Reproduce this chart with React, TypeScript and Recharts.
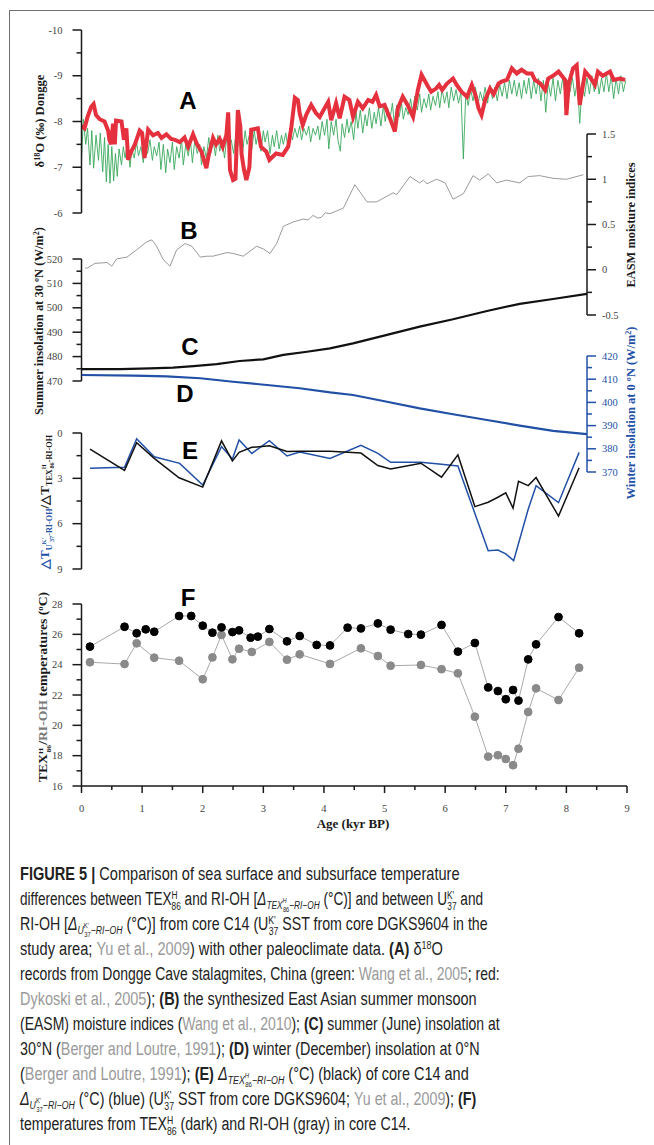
import React, { useLayoutEffect, useRef, useState } from 'react';
import { LineChart, Line, XAxis, YAxis } from 'recharts';

// ---- values (age in kyr BP) ----
const redDongge: [number, number][] = [
  [0, -7.9], [0.05, -7.85], [0.1, -8.1], [0.16, -8.32], [0.2, -8.38], [0.24, -8.14], [0.3, -8.05], [0.38, -8.0],
  [0.44, -7.8], [0.46, -7.6], [0.49, -7.5], [0.52, -7.95], [0.55, -7.5], [0.57, -8.02], [0.66, -8.0], [0.7, -7.6],
  [0.74, -7.85], [0.77, -7.16], [0.82, -7.34], [0.88, -7.5], [0.96, -7.8], [1.0, -7.75], [1.04, -7.2], [1.1, -7.82],
  [1.18, -7.7], [1.26, -7.75], [1.32, -7.64], [1.4, -7.72], [1.48, -7.62], [1.54, -7.6], [1.62, -7.55], [1.7, -7.65],
  [1.76, -7.45], [1.84, -7.72], [1.9, -7.52], [1.98, -7.34], [2.06, -6.98], [2.1, -7.27], [2.17, -7.64], [2.22, -7.5],
  [2.28, -7.62], [2.33, -7.45], [2.39, -7.7], [2.42, -8.2], [2.45, -6.94], [2.5, -6.72], [2.54, -6.75], [2.58, -8.25],
  [2.62, -7.9], [2.64, -7.3], [2.68, -6.95], [2.72, -6.72], [2.77, -7.0], [2.8, -7.82], [2.91, -7.85], [2.96, -7.45],
  [3.05, -7.34], [3.1, -7.16], [3.21, -7.3], [3.32, -7.27], [3.41, -7.45], [3.46, -7.85], [3.52, -8.52], [3.57, -8.47],
  [3.6, -8.18], [3.65, -7.92], [3.71, -8.15], [3.79, -8.36], [3.87, -8.18], [3.93, -8.1], [4.01, -8.29], [4.07, -8.43],
  [4.12, -8.03], [4.2, -8.4], [4.26, -8.07], [4.34, -8.54], [4.42, -8.47], [4.48, -8.1], [4.56, -8.43], [4.64, -8.29],
  [4.73, -8.47], [4.8, -8.43], [4.86, -8.58], [4.92, -8.33], [5.0, -8.36], [5.08, -8.1], [5.17, -7.78], [5.22, -8.29],
  [5.3, -8.54], [5.38, -8.36], [5.47, -8.1], [5.55, -8.69], [5.61, -9.02], [5.66, -8.9], [5.72, -8.76], [5.77, -8.65],
  [5.85, -8.72], [5.9, -8.8], [5.95, -8.69], [6.03, -8.83], [6.13, -8.94], [6.19, -8.8], [6.27, -8.65], [6.36, -8.54],
  [6.44, -8.8], [6.5, -8.58], [6.55, -8.29], [6.6, -8.14], [6.66, -8.47], [6.74, -8.72], [6.8, -8.6], [6.88, -8.83],
  [6.93, -8.87], [7.02, -8.91], [7.1, -9.16], [7.18, -9.05], [7.26, -9.13], [7.35, -9.05], [7.43, -9.05], [7.48, -8.91],
  [7.57, -8.83], [7.65, -8.69], [7.7, -8.94], [7.78, -9.0], [7.87, -9.09], [7.98, -8.91], [8.0, -8.14], [8.04, -8.83],
  [8.11, -9.16], [8.17, -9.23], [8.22, -8.36], [8.31, -9.09], [8.4, -8.95], [8.47, -8.8], [8.52, -9.09], [8.6, -9.0],
  [8.72, -9.09], [8.78, -8.91], [8.88, -8.94], [8.97, -8.91],
];

const greenDongge: [number, number][] = [
  [0.0, -7.15], [0.03, -8.05], [0.07, -7.5], [0.1, -7.85], [0.14, -7.05], [0.17, -7.8], [0.2, -6.98], [0.24, -7.7],
  [0.28, -7.15], [0.31, -7.75], [0.35, -6.9], [0.38, -7.65], [0.41, -6.68], [0.44, -7.5], [0.47, -6.65], [0.5, -7.45],
  [0.53, -6.7], [0.56, -7.3], [0.59, -6.8], [0.62, -7.4], [0.66, -7.05], [0.69, -7.45], [0.72, -7.2], [0.76, -7.55],
  [0.8, -7.0], [0.83, -7.4], [0.87, -7.2], [0.91, -7.55], [0.94, -7.25], [0.98, -7.45], [1.02, -7.1], [1.05, -7.5],
  [1.09, -7.3], [1.13, -7.6], [1.17, -7.15], [1.2, -7.45], [1.24, -7.25], [1.28, -7.55], [1.31, -6.95], [1.35, -7.5],
  [1.39, -6.88], [1.42, -7.4], [1.46, -7.1], [1.5, -7.55], [1.53, -6.95], [1.57, -7.45], [1.61, -7.2], [1.65, -7.6],
  [1.68, -7.05], [1.72, -7.5], [1.76, -7.25], [1.8, -7.55], [1.83, -7.1], [1.87, -7.6], [1.91, -7.3], [1.95, -7.5],
  [1.98, -7.05], [2.02, -7.45], [2.06, -7.2], [2.1, -7.65], [2.13, -7.3], [2.17, -7.6], [2.21, -7.25], [2.25, -7.7],
  [2.28, -7.35], [2.32, -7.6], [2.36, -7.2], [2.4, -7.7], [2.43, -7.4], [2.47, -7.6], [2.51, -7.3], [2.55, -7.75],
  [2.58, -7.45], [2.62, -7.7], [2.66, -7.35], [2.7, -7.8], [2.73, -7.5], [2.77, -7.7], [2.81, -7.4], [2.85, -7.8],
  [2.88, -7.5], [2.92, -7.75], [2.96, -7.35], [3.0, -7.8], [3.03, -7.55], [3.07, -7.8], [3.11, -7.3], [3.15, -7.7],
  [3.18, -7.45], [3.22, -7.8], [3.26, -7.4], [3.3, -7.7], [3.33, -7.5], [3.37, -7.75], [3.41, -7.4], [3.45, -7.8],
  [3.48, -7.6], [3.52, -7.85], [3.56, -7.65], [3.6, -7.9], [3.63, -7.6], [3.67, -7.85], [3.71, -7.7], [3.75, -7.9],
  [3.78, -7.55], [3.82, -7.85], [3.86, -7.7], [3.9, -7.9], [3.93, -7.6], [3.97, -8.0], [4.01, -7.7], [4.05, -8.05],
  [4.08, -7.4], [4.12, -8.0], [4.16, -7.7], [4.2, -8.05], [4.23, -7.6], [4.27, -7.35], [4.3, -7.95], [4.34, -7.65],
  [4.38, -8.05], [4.41, -7.75], [4.45, -8.0], [4.49, -7.6], [4.53, -8.2], [4.56, -7.85], [4.6, -8.25], [4.64, -7.75],
  [4.68, -8.15], [4.71, -7.9], [4.75, -8.3], [4.79, -7.85], [4.83, -8.2], [4.86, -7.95], [4.9, -8.3], [4.94, -7.9],
  [4.98, -8.35], [5.01, -8.0], [5.05, -8.3], [5.09, -8.05], [5.13, -8.4], [5.16, -7.95], [5.2, -8.35], [5.24, -8.1],
  [5.28, -8.4], [5.31, -8.05], [5.35, -8.3], [5.39, -8.15], [5.43, -8.5], [5.46, -8.2], [5.5, -8.55], [5.54, -8.25],
  [5.58, -8.6], [5.61, -8.2], [5.65, -8.5], [5.69, -8.3], [5.73, -8.6], [5.76, -8.25], [5.8, -8.55], [5.84, -8.35],
  [5.88, -8.65], [5.91, -8.3], [5.95, -8.7], [5.99, -8.4], [6.03, -8.65], [6.06, -8.3], [6.1, -8.75], [6.14, -8.45],
  [6.18, -8.7], [6.22, -8.4], [6.26, -8.65], [6.3, -7.18], [6.34, -8.6], [6.38, -8.35], [6.42, -8.7], [6.46, -8.45],
  [6.5, -8.75], [6.54, -8.35], [6.58, -8.65], [6.62, -8.45], [6.66, -8.75], [6.7, -8.4], [6.74, -8.8], [6.78, -8.5],
  [6.82, -8.75], [6.86, -8.45], [6.9, -8.8], [6.94, -8.55], [6.98, -8.85], [7.02, -8.5], [7.06, -8.9], [7.1, -8.6],
  [7.14, -8.9], [7.18, -8.55], [7.22, -8.85], [7.26, -8.5], [7.3, -8.9], [7.34, -8.6], [7.38, -8.95], [7.42, -8.5],
  [7.46, -8.9], [7.5, -8.6], [7.54, -8.95], [7.58, -8.45], [7.62, -8.9], [7.66, -8.2], [7.7, -8.85], [7.74, -8.55],
  [7.78, -8.95], [7.82, -8.45], [7.86, -8.9], [7.9, -8.6], [7.94, -8.95], [7.98, -8.55], [8.02, -8.9], [8.06, -8.65],
  [8.1, -8.95], [8.14, -8.55], [8.18, -8.9], [8.22, -7.96], [8.26, -8.85], [8.3, -8.55], [8.34, -8.95], [8.38, -8.6],
  [8.42, -9.0], [8.46, -8.65], [8.5, -9.0], [8.54, -8.6], [8.58, -8.95], [8.62, -8.65], [8.66, -9.05], [8.7, -8.65],
  [8.74, -9.0], [8.78, -8.5], [8.82, -8.95], [8.86, -8.6], [8.9, -9.0], [8.94, -8.65], [8.98, -8.9],
];

const easmIndex: [number, number][] = [
  [0.06, 0.02], [0.1, 0.02], [0.22, 0.07], [0.42, 0.08], [0.5, 0.04], [0.58, 0.12], [0.75, 0.14], [0.91, 0.22],
  [1.08, 0.31], [1.16, 0.33], [1.24, 0.26], [1.35, 0.11], [1.46, 0.04], [1.57, 0.22], [1.71, 0.29], [1.82, 0.26],
  [1.96, 0.14], [2.07, 0.15], [2.17, 0.15], [2.4, 0.19], [2.5, 0.18], [2.67, 0.15], [2.89, 0.26], [3.0, 0.23],
  [3.11, 0.18], [3.22, 0.29], [3.33, 0.48], [3.5, 0.53], [3.66, 0.56], [3.74, 0.55], [3.82, 0.6], [3.9, 0.57],
  [3.96, 0.58], [4.02, 0.63], [4.1, 0.62], [4.32, 0.68], [4.51, 0.94], [4.71, 0.75], [4.87, 0.75], [5.14, 0.85],
  [5.2, 0.83], [5.42, 1.03], [5.58, 0.96], [5.64, 0.99], [5.7, 0.95], [5.86, 1.0], [6.0, 0.96], [6.13, 0.78],
  [6.3, 0.84], [6.46, 1.04], [6.57, 0.99], [6.71, 1.06], [6.85, 0.96], [7.01, 0.99], [7.23, 0.96], [7.37, 1.03],
  [7.56, 1.04], [7.78, 1.01], [8.0, 1.0], [8.28, 1.05],
];

const summerInsol30N: [number, number][] = [
  [0, 474.9], [0.64, 474.9], [1.13, 475.2], [1.51, 475.5], [1.85, 476.1], [2.23, 476.9], [2.61, 478.2], [3.0, 478.9],
  [3.33, 480.7], [3.72, 482.0], [4.1, 483.4], [4.48, 485.4], [5.04, 488.9], [5.58, 492.3], [6.13, 495.3],
  [6.69, 498.7], [7.23, 501.6], [7.78, 503.6], [8.34, 505.7],
];

const winterInsol0N: [number, number][] = [
  [0, 411.8], [0.86, 411.5], [1.4, 411.2], [1.96, 410.4], [2.5, 408.9], [3.06, 407.5], [3.6, 406.1], [4.1, 404.3],
  [4.48, 403.2], [5.04, 400.3], [5.58, 397.4], [6.13, 394.9], [6.69, 392.4], [7.23, 390.0], [7.78, 387.7], [8.34, 386.3],
];

const deltaTex: [number, number][] = [
  [0.14, 1.06], [0.71, 2.47], [0.91, 0.64], [1.2, 1.68], [1.61, 2.96], [2.0, 3.58], [2.31, 0.52], [2.49, 1.85],
  [2.6, 1.28], [2.81, 0.95], [3.1, 0.84], [3.39, 1.22], [3.6, 1.2], [4.1, 1.2], [4.61, 1.33], [4.89, 2.15],
  [5.1, 2.38], [5.6, 2.0], [5.94, 2.92], [6.21, 1.45], [6.49, 4.87], [6.71, 4.58], [6.87, 4.25], [7.0, 3.96],
  [7.12, 4.97], [7.21, 3.2], [7.37, 3.48], [7.5, 2.95], [7.87, 5.5], [8.21, 2.3],
];

const deltaUk37: [number, number][] = [
  [0.14, 2.34], [0.71, 2.27], [0.91, 0.38], [1.2, 1.57], [1.62, 2.01], [2.0, 3.44], [2.31, 0.9], [2.49, 1.72],
  [2.6, 0.46], [2.81, 1.35], [3.1, 0.51], [3.39, 1.52], [3.6, 1.26], [4.1, 1.68], [4.61, 0.82], [4.89, 1.35],
  [5.1, 1.94], [5.6, 1.94], [5.94, 2.07], [6.21, 2.18], [6.71, 7.79], [6.87, 7.74], [7.0, 8.0], [7.13, 8.45],
  [7.37, 5.05], [7.5, 3.49], [7.87, 4.61], [8.21, 1.28],
];

const texTemps: [number, number][] = [
  [0.14, 25.19], [0.71, 26.5], [0.91, 26.07], [1.06, 26.33], [1.2, 26.17], [1.61, 27.21], [1.81, 27.21], [2.0, 26.57],
  [2.16, 26.11], [2.31, 26.46], [2.49, 26.15], [2.6, 26.26], [2.79, 25.78], [2.91, 25.85], [3.1, 26.35], [3.39, 25.54],
  [3.6, 25.89], [3.88, 25.3], [4.1, 25.27], [4.39, 26.44], [4.61, 26.39], [4.89, 26.72], [5.1, 26.31], [5.39, 26.02],
  [5.6, 25.98], [5.94, 26.62], [6.21, 24.86], [6.49, 25.43], [6.71, 22.5], [6.87, 22.26], [7.0, 21.72], [7.12, 22.33],
  [7.21, 21.63], [7.37, 24.35], [7.5, 25.34], [7.87, 27.14], [8.21, 26.07],
];

const riohTemps: [number, number][] = [
  [0.14, 24.16], [0.71, 24.04], [0.91, 25.41], [1.2, 24.46], [1.61, 24.26], [2.0, 23.04], [2.16, 24.48], [2.31, 25.96],
  [2.49, 24.35], [2.6, 25.05], [2.81, 24.84], [3.1, 25.5], [3.39, 24.33], [3.6, 24.68], [4.1, 24.05], [4.61, 25.08],
  [4.89, 24.57], [5.1, 23.93], [5.6, 23.98], [5.94, 23.7], [6.21, 23.43], [6.49, 20.57], [6.71, 17.94], [6.87, 18.03],
  [7.0, 17.78], [7.12, 17.37], [7.21, 18.46], [7.37, 20.88], [7.5, 22.44], [7.87, 21.67], [8.21, 23.8],
];

const ticksA = [-10, -9.5, -9, -8.5, -8, -7.5, -7, -6.5, -6];
const ticksB = [-0.5, -0.25, 0, 0.25, 0.5, 0.75, 1, 1.25, 1.5];
const ticksC = [470, 475, 480, 485, 490, 495, 500, 505, 510, 515, 520];
const ticksD = [370, 375, 380, 385, 390, 395, 400, 405, 410, 415, 420];
const ticksE = [0, 1.5, 3, 4.5, 6, 7.5, 9];
const ticksF = [16, 17, 18, 19, 20, 21, 22, 23, 24, 25, 26, 27, 28];
const ticksAge = [0, 0.5, 1, 1.5, 2, 2.5, 3, 3.5, 4, 4.5, 5, 5.5, 6, 6.5, 7, 7.5, 8, 8.5, 9];

const SERIF = '"Liberation Serif", "Times New Roman", serif';
const SANS = '"Liberation Sans", Arial, sans-serif';
const INK = '#1a1a1a';
const BLUE = '#2150a6';
const CITE = '#9a9a9a';

const rows = (pts: [number, number][]) => pts.map(([age, v]) => ({ age, v }));
const onStep = (v: number, step: number) => Math.abs(v / step - Math.round(v / step)) < 1e-6;

function yTick(side: 'left' | 'right', step: number, color: string, labelColor: string) {
  return (p: any) => {
    const { x, y, payload } = p;
    const v = payload.value;
    const major = onStep(v, step);
    const dir = side === 'left' ? -1 : 1;
    const len = major ? 9 : 5;
    return (
      <g>
        <line x1={x} x2={x + dir * len} y1={y} y2={y} stroke={color} strokeWidth={1.5} />
        {major && (
          <text x={x + dir * (side === 'left' ? 19 : 15)} y={y} dy={3.5} textAnchor={side === 'left' ? 'end' : 'start'}
            fontFamily={SERIF} fontSize={10.5} fill={labelColor}>{String(v)}</text>
        )}
      </g>
    );
  };
}

const xTick = (p: any) => {
  const { x, y, payload } = p;
  const major = onStep(payload.value, 1);
  return (
    <g>
      <line x1={x} x2={x} y1={y} y2={y + (major ? 7 : 4)} stroke={INK} strokeWidth={1.5} />
      {major && <text x={x} y={y + 26} textAnchor="middle" fontFamily={SERIF} fontSize={10.5} fill="#444">{String(payload.value)}</text>}
    </g>
  );
};

type Seg = { t: string; off?: number; size?: number; fill?: string; b?: boolean; i?: boolean; dx?: number };

function renderSegs(list: Seg[]) {
  let cur = 0;
  return list.map((s, k) => {
    const off = s.off ?? 0;
    const dy = off - cur;
    cur = off;
    return (
      <tspan key={k} dy={dy} dx={s.dx} fontSize={s.size} fill={s.fill}
        fontWeight={s.b ? 700 : undefined} fontStyle={s.i ? 'italic' : undefined}>{s.t}</tspan>
    );
  });
}

// text squeezed (by a transform, so boxes stay true) to the width it has in the figure
function FitText({ x, y, len, rotate = false, anchor = 'start', children, ...rest }: any) {
  const ref = useRef<SVGTextElement>(null);
  const [s, setS] = useState(1);
  useLayoutEffect(() => {
    const el = ref.current;
    if (el) {
      const w = el.getComputedTextLength();
      if (w > 0) setS(len / w);
    }
  }, [len]);
  const tf = `translate(${x},${y})${rotate ? ' rotate(-90)' : ''} scale(${s},1)`;
  return <text ref={ref} transform={tf} textAnchor={anchor} {...rest}>{children}</text>;
}

const N = (t: string): Seg => ({ t });
const B = (t: string): Seg => ({ t, b: true });
const G = (t: string): Seg => ({ t, fill: CITE });
const SUP = (t: string): Seg => ({ t, off: -6.5, size: 11 });
const SUB = (t: string, dx = 0): Seg => ({ t, off: 4.5, size: 11, dx });
const dTex: Seg[] = [
  { t: 'Δ', i: true }, { t: 'TEX', i: true, size: 11, off: 4 }, { t: 'H', i: true, size: 7.5, off: -2.5 },
  { t: '86', size: 7.5, off: 6.5, dx: -5 }, { t: '−RI−OH', i: true, size: 11, off: 4 },
];
const dUk: Seg[] = [
  { t: 'Δ', i: true }, { t: 'U', i: true, size: 11, off: 4 }, { t: "K'", size: 7.5, off: -2.5 },
  { t: '37', size: 7.5, off: 6.5, dx: -6 }, { t: '−RI−OH', i: true, size: 11, off: 4 },
];

const caption: { end: number; segs: Seg[] }[] = [
  { end: 460, segs: [B('FIGURE 5 | '), N('Comparison of sea surface and subsurface temperature')] },
  { end: 500, segs: [N('differences between TEX'), SUP('H'), SUB('86', -8), N(' and RI-OH ['), ...dTex, N(' (°C)] and between U'), SUP("K'"), SUB('37', -9), N(' and')] },
  { end: 500, segs: [N('RI-OH ['), ...dUk, N(' (°C)] from core C14 (U'), SUP("K'"), SUB('37', -9), N(' SST from core DGKS9604 in the')] },
  { end: 443, segs: [N('study area; '), G('Yu et al., 2009'), N(') with other paleoclimate data. '), B('(A)'), N(' δ'), SUP('18'), N('O')] },
  { end: 500, segs: [N('records from Dongge Cave stalagmites, China (green: '), G('Wang et al., 2005'), N('; red:')] },
  { end: 477, segs: [G('Dykoski et al., 2005'), N('); '), B('(B)'), N(' the synthesized East Asian summer monsoon')] },
  { end: 500, segs: [N('(EASM) moisture indices ('), G('Wang et al., 2010'), N('); '), B('(C)'), N(' summer (June) insolation at')] },
  { end: 480, segs: [N('30°N ('), G('Berger and Loutre, 1991'), N('); '), B('(D)'), N(' winter (December) insolation at 0°N')] },
  { end: 473, segs: [N('('), G('Berger and Loutre, 1991'), N('); '), B('(E)'), N(' '), ...dTex, N(' (°C) (black) of core C14 and')] },
  { end: 488, segs: [...dUk, N(' (°C) (blue) (U'), SUP("K'"), SUB('37', -9), N(' SST from core DGKS9604; '), G('Yu et al., 2009'), N('); '), B('(F)')] },
  { end: 417, segs: [N('temperatures from TEX'), SUP('H'), SUB('86', -8), N(' (dark) and RI-OH (gray) in core C14.')] },
];

const abs = (top: number): React.CSSProperties => ({ position: 'absolute', left: 0, top });

function VLabel({ x, y, len, fill = INK, children }: { x: number; y: number; len: number; fill?: string; children: React.ReactNode }) {
  return (
    <FitText x={x} y={y} len={len} rotate anchor="middle" fontFamily={SERIF} fontWeight={700} fontSize={12.5} fill={fill}>
      {children}
    </FitText>
  );
}

export default function App() {
  const axisLine = (c: string) => ({ stroke: c, strokeWidth: 1.5 });
  const common = { tickSize: 0, tickMargin: 0, tickLine: false, interval: 0 as const, allowDataOverflow: true, type: 'number' as const };
  return (
    <div style={{ position: 'absolute', left: 0, top: 0, width: 654, height: 1145, background: '#fff', overflow: 'hidden' }}>
      <div style={{ position: 'absolute', left: 9, top: 10, width: 700, height: 1200, borderTop: '1.5px solid #707070', borderLeft: '1.5px solid #707070' }} />

      {/* A: Dongge d18O */}
      <div style={abs(20)}>
        <LineChart width={654} height={203} margin={{ top: 10, right: 27, bottom: 10, left: 21.5 }}>
          <XAxis type="number" dataKey="age" domain={[0, 9]} hide allowDataOverflow />
          <YAxis {...common} domain={[-10, -6]} reversed ticks={ticksA} width={60} axisLine={axisLine(INK)} tick={yTick('left', 1, INK, '#444')} />
          <Line data={rows(greenDongge)} dataKey="v" stroke="#3aa85c" strokeWidth={0.9} dot={false} isAnimationActive={false} />
          <Line data={rows(redDongge)} dataKey="v" stroke="#e5303e" strokeWidth={4} dot={false} isAnimationActive={false} />
        </LineChart>
      </div>

      {/* B: EASM moisture index */}
      <div style={abs(124)}>
        <LineChart width={654} height={201} margin={{ top: 10, right: 7, bottom: 10, left: 81.5 }}>
          <XAxis type="number" dataKey="age" domain={[0, 8.34]} hide allowDataOverflow />
          <YAxis {...common} orientation="right" domain={[-0.5, 1.5]} ticks={ticksB} width={60} axisLine={axisLine(INK)} tick={yTick('right', 0.5, INK, '#444')} />
          <Line data={rows(easmIndex)} dataKey="v" stroke="#9a9a9a" strokeWidth={1} dot={false} isAnimationActive={false} />
        </LineChart>
      </div>

      {/* C: summer insolation 30N */}
      <div style={abs(249)}>
        <LineChart width={654} height={142} margin={{ top: 10, right: 67, bottom: 10, left: 21.5 }}>
          <XAxis type="number" dataKey="age" domain={[0, 8.34]} hide allowDataOverflow />
          <YAxis {...common} domain={[470, 520]} ticks={ticksC} width={60} axisLine={axisLine(INK)} tick={yTick('left', 10, INK, '#444')} />
          <Line data={rows(summerInsol30N)} dataKey="v" stroke="#111" strokeWidth={2.2} dot={false} isAnimationActive={false} />
        </LineChart>
      </div>

      {/* D: winter insolation 0N */}
      <div style={abs(346)}>
        <LineChart width={654} height={136} margin={{ top: 10, right: 7, bottom: 10, left: 81.5 }}>
          <XAxis type="number" dataKey="age" domain={[0, 8.34]} hide allowDataOverflow />
          <YAxis {...common} orientation="right" domain={[370, 420]} ticks={ticksD} width={60} axisLine={axisLine(BLUE)} tick={yTick('right', 10, BLUE, BLUE)} />
          <Line data={rows(winterInsol0N)} dataKey="v" stroke={BLUE} strokeWidth={2.2} dot={false} isAnimationActive={false} />
        </LineChart>
      </div>

      {/* E: temperature differences */}
      <div style={abs(423)}>
        <LineChart width={654} height={156} margin={{ top: 10, right: 27, bottom: 10, left: 21.5 }}>
          <XAxis type="number" dataKey="age" domain={[0, 9]} hide allowDataOverflow />
          <YAxis {...common} domain={[0, 9]} reversed ticks={ticksE} width={60} axisLine={axisLine(INK)} tick={yTick('left', 3, INK, '#444')} />
          <Line data={rows(deltaUk37)} dataKey="v" stroke={BLUE} strokeWidth={1.5} dot={false} isAnimationActive={false} />
          <Line data={rows(deltaTex)} dataKey="v" stroke="#111" strokeWidth={1.5} dot={false} isAnimationActive={false} />
        </LineChart>
      </div>

      {/* F: TEX86H and RI-OH temperatures */}
      <div style={abs(594)}>
        <LineChart width={654} height={222} margin={{ top: 10, right: 27, bottom: 0, left: 21.5 }}>
          <XAxis {...common} dataKey="age" domain={[0, 9]} ticks={ticksAge} height={30} axisLine={axisLine(INK)} tick={xTick} />
          <YAxis {...common} domain={[16, 28]} ticks={ticksF} width={60} axisLine={axisLine(INK)} tick={yTick('left', 2, INK, '#444')} />
          <Line data={rows(riohTemps)} dataKey="v" stroke="#a8a8a8" strokeWidth={1} dot={{ r: 3.9, fill: '#8a8a8a', stroke: '#8a8a8a' }} isAnimationActive={false} />
          <Line data={rows(texTemps)} dataKey="v" stroke="#a8a8a8" strokeWidth={1} dot={{ r: 3.9, fill: '#000', stroke: '#000' }} isAnimationActive={false} />
        </LineChart>
      </div>

      <svg width={654} height={1145} style={{ position: 'absolute', left: 0, top: 0, pointerEvents: 'none' }}>
        <g fontFamily={SANS} fontWeight={700} fontSize={24} fill="#000" textAnchor="middle">
          <text x={188} y={109}>A</text>
          <text x={189} y={239}>B</text>
          <text x={190} y={355}>C</text>
          <text x={185} y={402}>D</text>
          <text x={190} y={459}>E</text>
          <text x={188} y={606}>F</text>
        </g>

        <VLabel x={44} y={121} len={93}>
          {renderSegs([N('δ'), { t: '18', off: -4, size: 8 }, N('O (‰) Dongge')])}
        </VLabel>
        <VLabel x={43} y={321} len={188}>
          {renderSegs([N('Summer insolation at 30 ºN (W/m'), { t: '2', off: -4, size: 8 }, N(')')])}
        </VLabel>
        <VLabel x={635} y={225} len={125}>EASM moisture indices</VLabel>
        <VLabel x={635} y={413} len={173} fill={BLUE}>
          {renderSegs([N('Winter insolation at 0 ºN (W/m'), { t: '2', off: -4, size: 8 }, N(')')])}
        </VLabel>
        <VLabel x={49} y={502} len={143}>
          {renderSegs([
            { t: '△T', fill: BLUE }, { t: 'U', fill: BLUE, size: 8, off: 3 }, { t: "K'", fill: BLUE, size: 6, off: -3 },
            { t: '37', fill: BLUE, size: 6, off: 4.5, dx: -4 }, { t: '-RI-OH', fill: BLUE, size: 8, off: 3 },
            { t: '/△T' }, { t: 'TEX', size: 8, off: 3 }, { t: 'H', size: 6, off: -3.5 }, { t: '86', size: 6, off: 4.5, dx: -4 },
            { t: '-RI-OH', size: 8, off: 3 },
          ])}
        </VLabel>
        <VLabel x={47} y={687} len={195}>
          {renderSegs([
            N('TEX'), { t: 'H', size: 7, off: -4.5 }, { t: '86', size: 7, off: 3.5, dx: -4 }, N('/'),
            { t: 'RI-OH', fill: '#7a7a7a' }, N(' temperatures ('), { t: 'o', size: 8, off: -4 }, N('C)'),
          ])}
        </VLabel>
        <text x={353} y={828} textAnchor="middle" fontFamily={SERIF} fontWeight={700} fontSize={13} fill={INK}>Age (kyr BP)</text>

        <g fontFamily={SANS} fontSize={18} fill="#222">
          {caption.map((line, i) => (
            <FitText key={i} x={20} y={880 + 25 * i} len={line.end - 20}>
              {renderSegs(line.segs)}
            </FitText>
          ))}
        </g>
      </svg>
    </div>
  );
}
